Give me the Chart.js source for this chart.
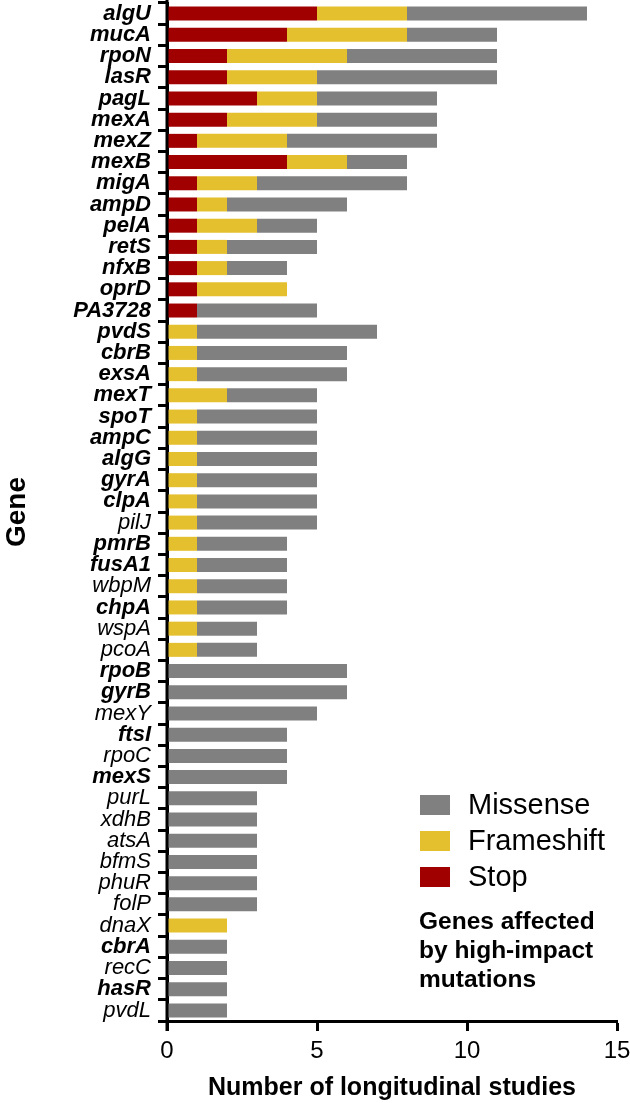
<!DOCTYPE html>
<html>
<head>
<meta charset="utf-8">
<script src="https://cdn.jsdelivr.net/npm/chart.js@4"></script>
<style>
  html, body { margin: 0; padding: 0; background: #fff; }
  #wrap { width: 630px; height: 1103px; }
</style>
</head>
<body>
<div id="wrap"><canvas id="chart" width="630" height="1103"></canvas></div>
<script>
const FONT = "'Liberation Sans', Arial, sans-serif";

const genes = [
  "algU", "mucA", "rpoN", "lasR", "pagL", "mexA", "mexZ", "mexB", "migA", "ampD",
  "pelA", "retS", "nfxB", "oprD", "PA3728", "pvdS", "cbrB", "exsA", "mexT", "spoT",
  "ampC", "algG", "gyrA", "clpA", "pilJ", "pmrB", "fusA1", "wbpM", "chpA", "wspA",
  "pcoA", "rpoB", "gyrB", "mexY", "ftsI", "rpoC", "mexS", "purL", "xdhB", "atsA",
  "bfmS", "phuR", "folP", "dnaX", "cbrA", "recC", "hasR", "pvdL"
];

// genes affected by high-impact mutations (bold labels)
const boldGenes = [
  "algU", "mucA", "rpoN", "lasR", "pagL", "mexA", "mexZ", "mexB", "migA", "ampD",
  "pelA", "retS", "nfxB", "oprD", "PA3728", "pvdS", "cbrB", "exsA", "mexT", "spoT",
  "ampC", "algG", "gyrA", "clpA", "pmrB", "fusA1", "chpA", "rpoB", "gyrB", "ftsI",
  "mexS", "cbrA", "hasR"
];

const stopCounts = [
  5, 4, 2, 2, 3, 2, 1, 4, 1, 1,
  1, 1, 1, 1, 1, 0, 0, 0, 0, 0,
  0, 0, 0, 0, 0, 0, 0, 0, 0, 0,
  0, 0, 0, 0, 0, 0, 0, 0, 0, 0,
  0, 0, 0, 0, 0, 0, 0, 0
];

const frameshiftCounts = [
  3, 4, 4, 3, 2, 3, 3, 2, 2, 1,
  2, 1, 1, 3, 0, 1, 1, 1, 2, 1,
  1, 1, 1, 1, 1, 1, 1, 1, 1, 1,
  1, 0, 0, 0, 0, 0, 0, 0, 0, 0,
  0, 0, 0, 2, 0, 0, 0, 0
];

const missenseCounts = [
  6, 3, 5, 6, 4, 4, 5, 2, 5, 4,
  2, 3, 2, 0, 4, 6, 5, 5, 3, 4,
  4, 4, 4, 4, 4, 3, 3, 3, 3, 2,
  2, 6, 6, 5, 4, 4, 4, 3, 3, 3,
  3, 3, 3, 0, 2, 2, 2, 2
];

const xTicks = [0, 5, 10, 15];

const noteLines = ["Genes affected", "by high-impact", "mutations"];

const COLORS = {
  stop: "#a00000",
  frameshift: "#e4bf2e",
  missense: "#808080"
};

// legend + note drawn in the empty lower right corner,
// plus the y axis line running past the plot like in the original
const extrasPlugin = {
  id: "extras",
  afterDraw(chart) {
    const ctx = chart.ctx;
    const area = chart.chartArea;
    ctx.save();

    ctx.strokeStyle = "#000";
    ctx.lineWidth = 3;
    ctx.beginPath();
    ctx.moveTo(area.left, 0);
    ctx.lineTo(area.left, area.bottom + 10);
    ctx.stroke();

    const items = [...chart.data.datasets].reverse();
    ctx.textBaseline = "middle";
    ctx.textAlign = "left";
    items.forEach((ds, i) => {
      const cy = 805 + i * 36;
      ctx.fillStyle = ds.backgroundColor;
      ctx.fillRect(420, cy - 10, 30, 20);
      ctx.fillStyle = "#000";
      ctx.font = `29px ${FONT}`;
      ctx.fillText(ds.label, 468, cy + 1);
    });
    ctx.font = `bold 24.5px ${FONT}`;
    noteLines.forEach((line, i) => {
      ctx.fillText(line, 419, 922 + i * 29);
    });
    ctx.restore();
  }
};

const ctx = document.getElementById("chart").getContext("2d");
new Chart(ctx, {
  type: "bar",
  data: {
    labels: genes,
    datasets: [
      { label: "Stop", data: stopCounts, backgroundColor: COLORS.stop },
      { label: "Frameshift", data: frameshiftCounts, backgroundColor: COLORS.frameshift },
      { label: "Missense", data: missenseCounts, backgroundColor: COLORS.missense }
    ]
  },
  options: {
    indexAxis: "y",
    responsive: false,
    animation: false,
    barPercentage: 0.66,
    categoryPercentage: 1,
    layout: { padding: { top: 3, right: 13, left: 0, bottom: 0 } },
    plugins: {
      legend: { display: false },
      tooltip: { enabled: false }
    },
    scales: {
      x: {
        stacked: true,
        min: 0,
        max: 15,
        afterBuildTicks: (scale) => {
          scale.ticks = xTicks.map(v => ({ value: v }));
        },
        afterFit: (scale) => {
          scale.height = 82;
          scale.paddingLeft = 0;
          scale.paddingRight = 0;
        },
        grid: {
          drawOnChartArea: false,
          drawTicks: true,
          tickLength: 10,
          tickWidth: 3,
          color: "#000"
        },
        border: { display: true, width: 3, color: "#000" },
        ticks: {
          color: "#000",
          padding: 6,
          font: { family: FONT, size: 24 }
        },
        title: {
          display: true,
          text: "Number of longitudinal studies",
          color: "#000",
          padding: { top: 4, bottom: 0 },
          font: { family: FONT, size: 25, weight: "bold" }
        }
      },
      y: {
        stacked: true,
        afterFit: (scale) => {
          scale.width = 167;
          scale.paddingTop = 0;
          scale.paddingBottom = 0;
        },
        grid: {
          drawOnChartArea: false,
          drawTicks: true,
          tickLength: 9,
          tickWidth: 3,
          color: "#000"
        },
        border: { display: true, width: 3, color: "#000" },
        ticks: {
          color: "#000",
          padding: 7,
          autoSkip: false,
          font: (c) => {
            const name = genes[c.index];
            const bold = boldGenes.includes(name);
            return { family: FONT, size: 22, style: "italic", weight: bold ? "bold" : "normal" };
          }
        },
        title: {
          display: true,
          text: "Gene",
          color: "#000",
          padding: { top: 0, bottom: 0 },
          font: { family: FONT, size: 28, weight: "bold" }
        }
      }
    }
  },
  plugins: [extrasPlugin]
});
</script>
</body>
</html>
